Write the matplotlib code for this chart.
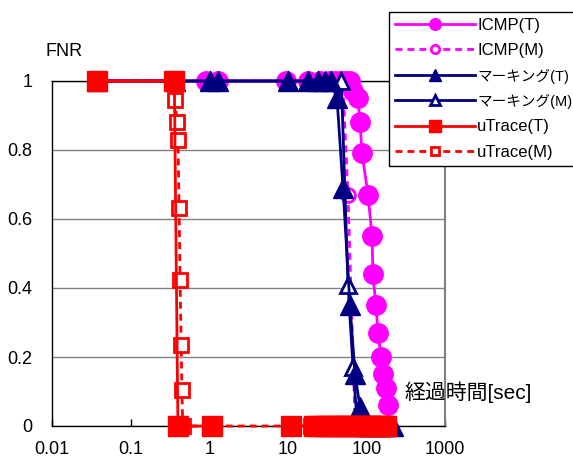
import numpy as np
import matplotlib.pyplot as plt

plt.rcParams['font.family'] = ['Liberation Sans', 'Noto Sans CJK JP']

#Data (x: elapsed time [sec], y: FNR)
x_icmp_t = [0.037, 0.36, 0.9, 1.3, 9.5, 18, 26, 33, 40, 47, 55, 62, 67.6, 78, 83, 88,
            105, 118, 121, 132, 141, 153, 163, 177, 188]
y_icmp_t = [1, 1, 1, 1, 1, 1, 1, 1, 1, 1, 1, 1, 0.97, 0.95, 0.88, 0.79,
            0.67, 0.55, 0.44, 0.35, 0.27, 0.2, 0.15, 0.11, 0.06]

x_icmp_m = [0.037, 0.36, 0.9, 9.5, 26, 40, 50, 58.3, 72, 90, 120, 160]
y_icmp_m = [1, 1, 1, 1, 1, 1, 1, 0.67, 0, 0, 0, 0]

x_mark_t = [0.037, 0.37, 1.02, 1.29, 10.1, 18, 24, 30, 35, 42.3, 50.4, 61.8, 71.6, 82.8,
            95, 110, 130, 150, 180, 218]
y_mark_t = [1, 1, 1, 1, 1, 1, 1, 1, 1, 0.95, 0.69, 0.35, 0.15, 0.055,
            0, 0, 0, 0, 0, 0]

x_mark_m = [0.037, 0.37, 1.02, 10.1, 24, 35, 48, 58.3, 67.6, 77, 100, 150, 210]
y_mark_m = [1, 1, 1, 1, 1, 1, 1, 0.41, 0.17, 0, 0, 0, 0]

x_utr_t = [0.037, 0.36, 0.40, 1.1, np.nan, 11, 21.5, 25, 30, 35, 40, 45, 50, 57, 65,
           75, 85, 95, 105, 118, 132, 150, 165, 180]
y_utr_t = [1, 1, 0, 0, np.nan, 0, 0, 0, 0, 0, 0, 0, 0, 0, 0,
           0, 0, 0, 0, 0, 0, 0, 0, 0]

x_utr_m = [0.037, 0.36, 0.367, 0.389, 0.40, 0.414, 0.426, 0.44, 0.45, 0.46, 1.1, 11, 20, 50, 100, 180]
y_utr_m = [1, 1, 0.945, 0.88, 0.83, 0.632, 0.423, 0.235, 0.104, 0, 0, 0, 0, 0, 0, 0]

labels = ['ICMP(T)', 'ICMP(M)', 'マーキング(T)', 'マーキング(M)', 'uTrace(T)', 'uTrace(M)']

MAG = '#FF00FF'
NAVY = '#000080'
RED = '#FF0000'
dots = (0, (2.5, 1.8))

fig = plt.figure(figsize=(5.73, 4.63), dpi=100)
ax = fig.add_axes([52/573, 37/463, 393/573, 345/463])

h_im, = ax.plot(x_icmp_m, y_icmp_m, color=MAG, ls=dots, lw=2, marker='o', ms=10,
                mfc='white', mec=MAG, mew=2, clip_on=False, zorder=3)
h_it, = ax.plot(x_icmp_t, y_icmp_t, color=MAG, lw=2, marker='o', ms=14,
                mfc=MAG, mec=MAG, clip_on=False, zorder=4)
h_mm, = ax.plot(x_mark_m, y_mark_m, color=NAVY, lw=2, marker='^', ms=11,
                mfc='white', mec=NAVY, mew=2, clip_on=False, zorder=5)
h_mt, = ax.plot(x_mark_t, y_mark_t, color=NAVY, lw=2, marker='^', ms=14,
                mfc=NAVY, mec=NAVY, clip_on=False, zorder=6)
h_um, = ax.plot(x_utr_m, y_utr_m, color=RED, ls=dots, lw=2, marker='s', ms=10,
                mfc='white', mec=RED, mew=2, clip_on=False, zorder=7)
h_ut, = ax.plot(x_utr_t, y_utr_t, color=RED, lw=2, marker='s', ms=15,
                mfc=RED, mec=RED, clip_on=False, zorder=8)

ax.set_xscale('log')
ax.set_xlim(0.01, 1000)
ax.set_ylim(0, 1)
ax.set_xticks([0.01, 0.1, 1, 10, 100, 1000])
ax.set_xticklabels(['0.01', '0.1', '1', '10', '100', '1000'])
ax.minorticks_off()
ax.set_yticks([0, 0.2, 0.4, 0.6, 0.8, 1])
ax.set_yticklabels(['0', '0.2', '0.4', '0.6', '0.8', '1'])
ax.tick_params(axis='x', direction='in', length=5, width=1, pad=11, labelsize=13)
ax.tick_params(axis='y', length=0, pad=14, labelsize=13)
ax.grid(True, axis='y', color='#808080', lw=1)
ax.set_axisbelow(True)
for s in ['left', 'bottom', 'top']:
    ax.spines[s].set_color('black')
    ax.spines[s].set_linewidth(1)
ax.spines['right'].set_color('#808080')
ax.spines['right'].set_linewidth(1.5)

fig.text(64/573, 1 - 52/463, 'FNR', fontsize=13, ha='center', va='center')
fig.text(404/573, 1 - 392/463, '経過時間[sec]', fontsize=15, ha='left', va='center')

leg = fig.legend([h_it, h_im, h_mt, h_mm, h_ut, h_um], labels,
                 loc='upper left', bbox_to_anchor=(389/573, 1 - 12/463), borderaxespad=0,
                 fontsize=12, markerscale=0.6, handlelength=4.8, handletextpad=0.15,
                 labelspacing=0.62, borderpad=0.35, fancybox=False, framealpha=1,
                 edgecolor='black')
leg.get_frame().set_linewidth(1)
for t in leg.get_texts()[2:4]:
    t.set_fontsize(10.5)

plt.savefig('out.png', dpi=100)
